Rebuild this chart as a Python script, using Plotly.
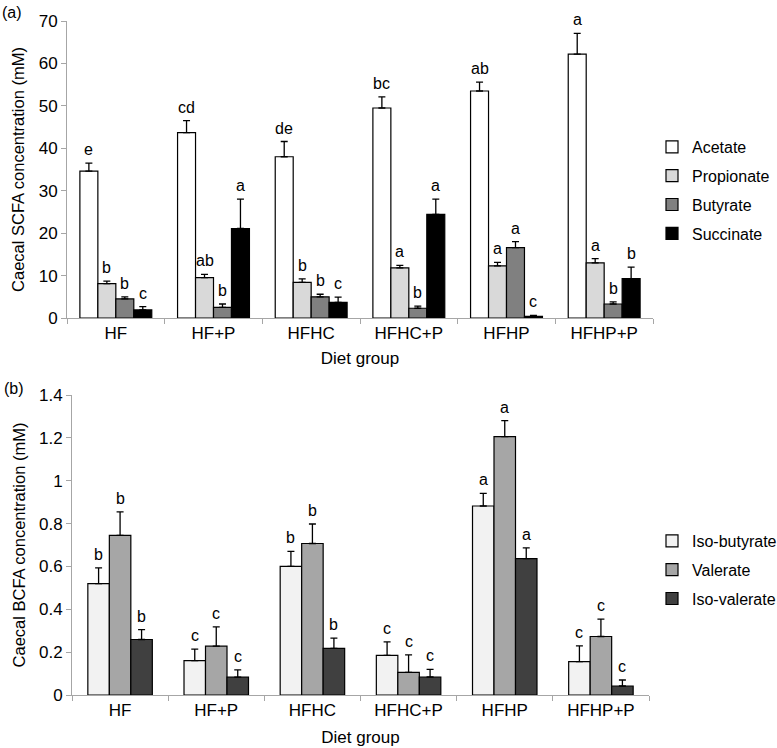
import plotly.graph_objects as go
from plotly.subplots import make_subplots

groups = ["HF", "HF+P", "HFHC", "HFHC+P", "HFHP", "HFHP+P"]

# Panel (a) SCFA
scfa_names = ["Acetate", "Propionate", "Butyrate", "Succinate"]
acetate = [34.6, 43.7, 38.0, 49.5, 53.5, 62.2]
acetate_se = [1.9, 2.8, 3.6, 2.6, 2.1, 4.9]
propionate = [8.1, 9.5, 8.4, 11.8, 12.3, 13.0]
propionate_se = [0.6, 0.8, 0.8, 0.6, 0.8, 1.0]
butyrate = [4.5, 2.5, 5.0, 2.3, 16.6, 3.3]
butyrate_se = [0.5, 0.8, 0.6, 0.5, 1.4, 0.5]
succinate = [1.9, 21.1, 3.7, 24.4, 0.4, 9.3]
succinate_se = [0.8, 6.9, 1.2, 3.6, 0.2, 2.7]
acetate_lbl = ["e", "cd", "de", "bc", "ab", "a"]
propionate_lbl = ["b", "ab", "b", "a", "a", "a"]
butyrate_lbl = ["b", "b", "b", "b", "a", "b"]
succinate_lbl = ["c", "a", "c", "a", "c", "b"]

# Panel (b) BCFA
bcfa_names = ["Iso-butyrate", "Valerate", "Iso-valerate"]
isobutyrate = [0.52, 0.16, 0.60, 0.185, 0.882, 0.156]
isobutyrate_se = [0.073, 0.054, 0.07, 0.063, 0.059, 0.073]
valerate = [0.745, 0.228, 0.707, 0.106, 1.206, 0.273]
valerate_se = [0.11, 0.09, 0.091, 0.081, 0.074, 0.081]
isovalerate = [0.259, 0.083, 0.218, 0.084, 0.636, 0.042]
isovalerate_se = [0.046, 0.034, 0.047, 0.036, 0.051, 0.028]
isobutyrate_lbl = ["b", "c", "b", "c", "a", "c"]
valerate_lbl = ["b", "c", "b", "c", "a", "c"]
isovalerate_lbl = ["b", "c", "b", "c", "a", "c"]

FONT = "Liberation Sans, Arial, sans-serif"
W, H = 777, 748
ML = 60
PW = W - ML

def xd(px):
    return (px - ML) / PW

def yd(py):
    return 1 - py / H

fig = make_subplots(rows=2, cols=1)

top_series = [
    (scfa_names[0], acetate, acetate_se, acetate_lbl, "#ffffff"),
    (scfa_names[1], propionate, propionate_se, propionate_lbl, "#d9d9d9"),
    (scfa_names[2], butyrate, butyrate_se, butyrate_lbl, "#808080"),
    (scfa_names[3], succinate, succinate_se, succinate_lbl, "#000000"),
]
bot_series = [
    (bcfa_names[0], isobutyrate, isobutyrate_se, isobutyrate_lbl, "#f2f2f2"),
    (bcfa_names[1], valerate, valerate_se, valerate_lbl, "#a6a6a6"),
    (bcfa_names[2], isovalerate, isovalerate_se, isovalerate_lbl, "#404040"),
]

annotations = []

def add_panel(series, row, bw, legend, xref, yref):
    n = len(series)
    start = -bw * n / 2
    for k, (name, vals, se, lbl, col) in enumerate(series):
        off = start + k * bw
        fig.add_trace(go.Bar(
            x=groups, y=vals, name=name, width=bw, offset=off,
            marker=dict(color=col, line=dict(color="#000000", width=1.2)),
            error_y=dict(type="data", array=se, arrayminus=[0] * len(se),
                         symmetric=False, color="#000000", thickness=1.3, width=3.5),
            legend=legend, legendgroup=name, showlegend=True,
        ), row=row, col=1)
        for i, (v, e, t) in enumerate(zip(vals, se, lbl)):
            annotations.append(dict(
                x=i + off + bw / 2, y=v + e, xref=xref, yref=yref,
                text=t, showarrow=False, yanchor="bottom", yshift=3,
                font=dict(family=FONT, size=16, color="#000000")))

add_panel(top_series, 1, 0.184, "legend", "x", "y")
add_panel(bot_series, 2, 0.2235, "legend2", "x2", "y2")

axis_col = "#a6a6a6"
common_x = dict(type="category", tickson="boundaries", ticks="outside", ticklen=5,
                tickcolor=axis_col, showline=True, linecolor=axis_col, linewidth=1,
                showgrid=False, zeroline=False, automargin=False,
                tickfont=dict(family=FONT, size=17, color="#000000"),
                range=[-0.5, 5.5])
common_y = dict(ticks="outside", ticklen=5, tickcolor=axis_col, showline=True,
                linecolor=axis_col, linewidth=1, showgrid=False, zeroline=False,
                automargin=False,
                tickfont=dict(family=FONT, size=17, color="#000000"))

fig.update_xaxes(**common_x, domain=[xd(67), xd(653)],
                 title=dict(text="Diet group", font=dict(family=FONT, size=17, color="#000000"),
                            standoff=9),
                 row=1, col=1)
fig.update_xaxes(**common_x, domain=[xd(72), xd(649)],
                 title=dict(text="Diet group", font=dict(family=FONT, size=17, color="#000000"),
                            standoff=11),
                 row=2, col=1)
fig.update_yaxes(**common_y, range=[0, 70], dtick=10, domain=[yd(318), yd(21)],
                 title=dict(text="Caecal SCFA concentration (mM)",
                            font=dict(family=FONT, size=16.5, color="#000000"), standoff=9),
                 row=1, col=1)
fig.update_yaxes(**common_y, range=[0, 1.4], dtick=0.2, domain=[yd(695), yd(395)],
                 title=dict(text="Caecal BCFA concentration (mM)",
                            font=dict(family=FONT, size=16.5, color="#000000"), standoff=9),
                 row=2, col=1)

annotations.append(dict(x=xd(0), y=yd(2), xref="paper", yref="paper", text="(a)",
                        showarrow=False, xanchor="left", yanchor="top",
                        font=dict(family=FONT, size=16, color="#000000")))
annotations.append(dict(x=xd(2), y=yd(378), xref="paper", yref="paper", text="(b)",
                        showarrow=False, xanchor="left", yanchor="top",
                        font=dict(family=FONT, size=16, color="#000000")))

legend_common = dict(font=dict(family=FONT, size=16, color="#000000"), bgcolor="rgba(0,0,0,0)",
                     tracegroupgap=5, itemwidth=30, xanchor="left", yanchor="top",
                     traceorder="grouped")
fig.update_layout(
    width=W, height=H, autosize=False,
    margin=dict(l=ML, r=0, t=0, b=0, autoexpand=False),
    paper_bgcolor="#ffffff", plot_bgcolor="#ffffff",
    barmode="overlay",
    hovermode=False,
    annotations=annotations,
    legend=dict(**legend_common, x=xd(652), y=yd(130)),
    legend2=dict(**legend_common, x=xd(652), y=yd(524)),
)

fig.write_html("out.html", config={"displayModeBar": False, "staticPlot": False},
               post_script="document.body.style.margin='0px';")
